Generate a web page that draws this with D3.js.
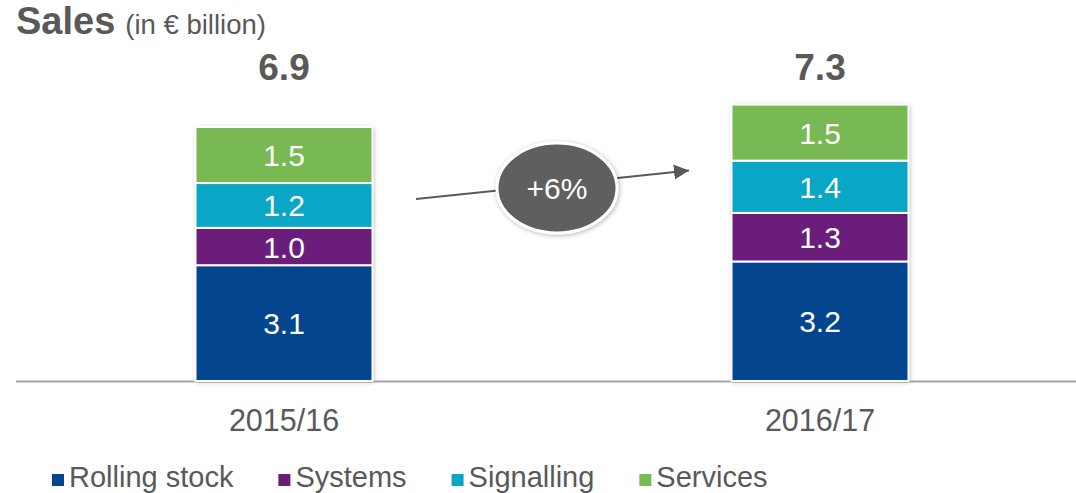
<!DOCTYPE html>
<html>
<head>
<meta charset="utf-8">
<script src="https://cdn.jsdelivr.net/npm/d3@7"></script>
<style>
  html, body { margin: 0; padding: 0; background: #fff; }
  svg { display: block; font-family: "Liberation Sans", Arial, sans-serif; }
</style>
</head>
<body>
<svg id="chart" width="1076" height="493"></svg>
<script>
// Sales by business segment, € billion
const categories = ["2015/16", "2016/17"];
const totals = [6.9, 7.3];
const segments = ["Rolling stock", "Systems", "Signalling", "Services"];
const rollingStock = [3.1, 3.2];
const systems = [1.0, 1.3];
const signalling = [1.2, 1.4];
const services = [1.5, 1.5];
const segmentColors = ["#03468f", "#6b1d7b", "#0aa6c6", "#78b953"];

const textGrey = "#595959";
const svg = d3.select("#chart");
const W = 1076, H = 493;

// soft shadow behind the bars and the growth bubble
const defs = svg.append("defs");
const shadow = defs.append("filter").attr("id", "shadow")
  .attr("x", "-20%").attr("y", "-20%").attr("width", "140%").attr("height", "140%");
shadow.append("feDropShadow")
  .attr("dx", 1).attr("dy", 1).attr("stdDeviation", 2.5)
  .attr("flood-color", "#000").attr("flood-opacity", 0.3);

defs.append("marker").attr("id", "arrowHead")
  .attr("viewBox", "0 0 10 10").attr("refX", 10).attr("refY", 5)
  .attr("markerWidth", 7.5).attr("markerHeight", 8)
  .attr("markerUnits", "strokeWidth").attr("orient", "auto")
  .append("path").attr("d", "M0,0 L10,5 L0,10 Z").attr("fill", textGrey);

// scales
const baseline = 381;
const y = d3.scaleLinear().domain([0, 8]).range([baseline, baseline - 8 * 37.35]);
const x = d3.scalePoint().domain(categories).range([284, 820]);
const barWidth = 177;

// stacked layout
const rows = categories.map((c, i) => ({
  category: c,
  "Rolling stock": rollingStock[i],
  "Systems": systems[i],
  "Signalling": signalling[i],
  "Services": services[i]
}));
const stack = d3.stack().keys(segments)(rows);
const color = d3.scaleOrdinal().domain(segments).range(segmentColors);

// title
const title = svg.append("text").attr("x", 16).attr("y", 34).attr("fill", textGrey);
title.append("tspan").attr("font-size", 38).attr("font-weight", "bold").text("Sales");
title.append("tspan").attr("font-size", 27.5).attr("dx", 10).text("(in € billion)");

// baseline axis
svg.append("line")
  .attr("x1", 16).attr("x2", W)
  .attr("y1", y(0) + 0.5).attr("y2", y(0) + 0.5)
  .attr("stroke", "#a6a6a6").attr("stroke-width", 2);

// bars
const bars = svg.append("g");
bars.selectAll("rect.shadow")
  .data(rows)
  .join("rect")
  .attr("class", "shadow")
  .attr("x", d => x(d.category) - barWidth / 2)
  .attr("width", barWidth)
  .attr("y", (d, i) => y(stack[stack.length - 1][i][1]))
  .attr("height", (d, i) => y(0) - y(stack[stack.length - 1][i][1]))
  .attr("fill", "#fff")
  .attr("filter", "url(#shadow)");

const layers = bars.selectAll("g.layer")
  .data(stack)
  .join("g")
  .attr("class", "layer")
  .attr("fill", d => color(d.key));

layers.selectAll("rect")
  .data(d => d)
  .join("rect")
  .attr("x", d => x(d.data.category) - barWidth / 2)
  .attr("width", barWidth)
  .attr("y", d => y(d[1]))
  .attr("height", d => y(d[0]) - y(d[1]))
  .attr("stroke", "#fff")
  .attr("stroke-width", 2);

layers.selectAll("text")
  .data(d => d)
  .join("text")
  .attr("x", d => x(d.data.category))
  .attr("y", d => (y(d[0]) + y(d[1])) / 2 + 11)
  .attr("text-anchor", "middle")
  .attr("font-size", 30)
  .attr("fill", "#fff")
  .text(d => d3.format(".1f")(d[1] - d[0]));

// totals above bars
svg.selectAll("text.total")
  .data(categories)
  .join("text")
  .attr("class", "total")
  .attr("x", d => x(d))
  .attr("y", 80)
  .attr("text-anchor", "middle")
  .attr("font-size", 37)
  .attr("font-weight", "bold")
  .attr("fill", textGrey)
  .text((d, i) => d3.format(".1f")(totals[i]));

// category labels
svg.selectAll("text.category")
  .data(categories)
  .join("text")
  .attr("class", "category")
  .attr("x", d => x(d))
  .attr("y", 431)
  .attr("text-anchor", "middle")
  .attr("font-size", 30.5)
  .attr("fill", textGrey)
  .text(d => d);

// growth arrow with bubble
svg.append("line")
  .attr("x1", 416).attr("y1", 199)
  .attr("x2", 689).attr("y2", 170.5)
  .attr("stroke", textGrey).attr("stroke-width", 2)
  .attr("marker-end", "url(#arrowHead)");

const bubble = svg.append("g").attr("transform", "translate(557,188)");
bubble.append("ellipse")
  .attr("rx", 60).attr("ry", 45)
  .attr("fill", "#5f5f5f")
  .attr("stroke", "#fff").attr("stroke-width", 3)
  .attr("filter", "url(#shadow)");
bubble.append("text")
  .attr("y", 11)
  .attr("text-anchor", "middle")
  .attr("font-size", 30)
  .attr("fill", "#fff")
  .text(d3.format("+.0%")(totals[1] / totals[0] - 1));

// legend
const legend = svg.append("g").attr("transform", "translate(0,487)");
let lx = 52;
segments.forEach(s => {
  const item = legend.append("g").attr("transform", `translate(${lx},0)`);
  item.append("rect")
    .attr("x", 0).attr("y", -13).attr("width", 12).attr("height", 12)
    .attr("fill", color(s));
  const t = item.append("text")
    .attr("x", 17)
    .attr("font-size", 29)
    .attr("fill", textGrey)
    .text(s);
  lx += 17 + t.node().getComputedTextLength() + 45;
});
</script>
</body>
</html>
